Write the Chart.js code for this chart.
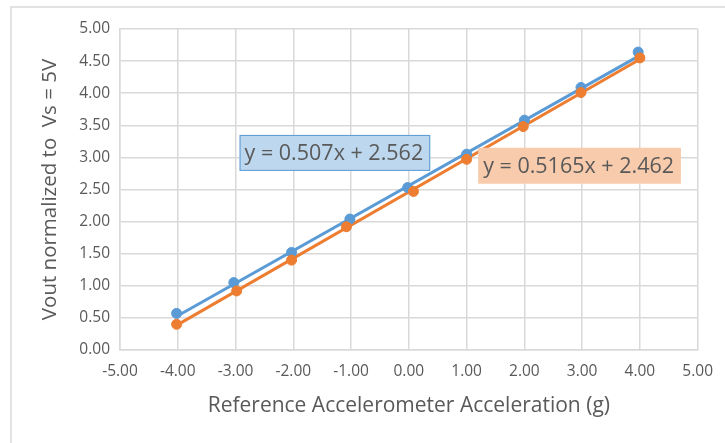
<!DOCTYPE html>
<html>
<head>
<meta charset="utf-8">
<script src="https://cdn.jsdelivr.net/npm/chart.js@4.4.1/dist/chart.umd.min.js"></script>
<style>
  html, body { margin: 0; padding: 0; background: #fff; }
  #wrap { width: 725px; height: 443px; }
</style>
</head>
<body>
<div id="wrap"><canvas id="graph" width="725" height="443"></canvas></div>
<script>
const blueX = [-4.02, -3.03, -2.03, -1.02, -0.02, 1.00, 2.00, 2.98, 3.97]
const blueY = [0.57, 1.05, 1.52, 2.04, 2.53, 3.05, 3.58, 4.09, 4.64]
const orangeX = [-4.02, -2.98, -2.03, -1.08, 0.08, 1.00, 1.98, 2.98, 4.00]
const orangeY = [0.40, 0.92, 1.40, 1.92, 2.47, 2.97, 3.48, 4.01, 4.55]

// trendline fits shown on the chart
const blueFit = { slope: 0.507, intercept: 2.562, label: 'y = 0.507x + 2.562' }
const orangeFit = { slope: 0.5165, intercept: 2.462, label: 'y = 0.5165x + 2.462' }
const fitRange = [-4, 4]

const COLOURS = Object.freeze({
  BLUE: '#5B9BD5',
  ORANGE: '#ED7D31',
  GRID: '#D9D9D9',
  TEXT: '#595959',
})

const FONT = "'Open Sans', sans-serif"

let toPoints = (xs, ys) => xs.map((x, i) => ({ x: x, y: ys[i] }))
let fitLine = (fit) => fitRange.map(x => ({ x: x, y: fit.slope * x + fit.intercept }))

// light frame round the whole chart, like the spreadsheet chart border
const frame = {
  id: 'frame',
  beforeDraw(chart) {
    const c = chart.ctx
    c.save()
    c.fillStyle = '#fff'
    c.fillRect(0, 0, chart.width, chart.height)
    c.strokeStyle = '#D9D9D9'
    c.lineWidth = 1.5
    c.strokeRect(11, 7, chart.width + 10, chart.height + 10)
    c.restore()
  },
}

// equation labels, positioned in data units
const equationBoxes = {
  id: 'equationBoxes',
  afterDatasetsDraw(chart) {
    const c = chart.ctx
    const xs = chart.scales.x, ys = chart.scales.y
    const boxes = [
      { x0: -2.93, x1: 0.37, y0: 3.35, y1: 2.79, fill: '#BDD7EE', border: COLOURS.BLUE, text: blueFit.label },
      { x0: 1.20, x1: 4.71, y0: 3.15, y1: 2.59, fill: '#F8CBAD', border: null, text: orangeFit.label },
    ]
    c.save()
    boxes.forEach(b => {
      const l = xs.getPixelForValue(b.x0), r = xs.getPixelForValue(b.x1)
      const t = ys.getPixelForValue(b.y0), btm = ys.getPixelForValue(b.y1)
      c.fillStyle = b.fill
      c.fillRect(l, t, r - l, btm - t)
      if (b.border) {
        c.strokeStyle = b.border
        c.lineWidth = 1
        c.strokeRect(l + 0.5, t + 0.5, r - l - 1, btm - t - 1)
      }
      c.fillStyle = COLOURS.TEXT
      c.font = "21.5px " + FONT
      c.textBaseline = 'middle'
      c.textAlign = 'left'
      c.fillText(b.text, l + 5, (t + btm) / 2 + 1)
    })
    c.restore()
  },
}

const ctx = document.getElementById('graph').getContext('2d')

let graph = new Chart(ctx, {
  type: 'scatter',
  data: {
    datasets: [
      {
        label: 'blue fit',
        type: 'line',
        data: fitLine(blueFit),
        borderColor: COLOURS.BLUE,
        borderWidth: 3,
        pointRadius: 0,
        order: 3,
      },
      {
        label: 'orange fit',
        type: 'line',
        data: fitLine(orangeFit),
        borderColor: COLOURS.ORANGE,
        borderWidth: 3,
        pointRadius: 0,
        order: 2,
      },
      {
        label: 'blue',
        data: toPoints(blueX, blueY),
        backgroundColor: COLOURS.BLUE,
        borderColor: COLOURS.BLUE,
        pointRadius: 5,
        order: 1,
      },
      {
        label: 'orange',
        data: toPoints(orangeX, orangeY),
        backgroundColor: COLOURS.ORANGE,
        borderColor: COLOURS.ORANGE,
        pointRadius: 5,
        order: 0,
      },
    ],
  },
  options: {
    responsive: false,
    animation: false,
    layout: { padding: { left: 11, top: 29, right: 27, bottom: 0 } },
    plugins: {
      legend: { display: false },
      tooltip: { enabled: false },
    },
    scales: {
      x: {
        type: 'linear',
        min: -5,
        max: 5,
        border: { color: COLOURS.GRID, width: 1.5 },
        grid: { color: COLOURS.GRID, lineWidth: 1.5, drawTicks: false },
        ticks: {
          stepSize: 1,
          padding: 12,
          color: COLOURS.TEXT,
          font: { family: FONT, size: 15.5 },
          callback: v => v.toFixed(2),
        },
        title: {
          display: true,
          text: 'Reference Accelerometer Acceleration (g)',
          color: COLOURS.TEXT,
          font: { family: FONT, size: 21 },
          padding: { top: 24, bottom: 24 },
        },
        afterFit: s => { s.height = 93 },
      },
      y: {
        type: 'linear',
        min: 0,
        max: 5,
        border: { color: COLOURS.GRID, width: 1.5 },
        grid: { color: COLOURS.GRID, lineWidth: 1.5, drawTicks: false },
        ticks: {
          stepSize: 0.5,
          padding: 10,
          color: COLOURS.TEXT,
          font: { family: FONT, size: 15.5 },
          callback: v => v.toFixed(2),
        },
        title: {
          display: true,
          text: 'Vout normalized to  Vs = 5V',
          color: COLOURS.TEXT,
          font: { family: FONT, size: 20.5 },
          padding: { top: 27, bottom: 27 },
        },
        afterFit: s => { s.width = 109 },
      },
    },
  },
  plugins: [frame, equationBoxes],
})
</script>
</body>
</html>
